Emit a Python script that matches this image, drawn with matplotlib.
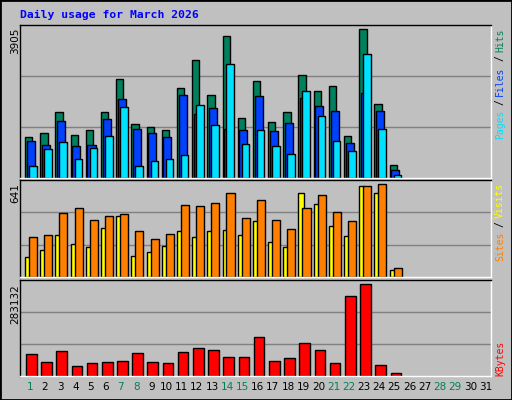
import matplotlib
matplotlib.use("Agg")
import matplotlib.pyplot as plt
import numpy as np

days = list(range(1, 32))
hits = [1068,1174,1730,1121,1253,1730,2605,1412,1333,1253,2366,3082,2181,3718,1571,2552,1465,1730,2711,2287,2419,1094,3905,1942,352]
files = [962,856,1492,829,856,1545,2075,1280,1174,1068,2181,1677,1836,1280,1253,2154,1227,1439,2101,1889,1757,909,2234,1757,220]
pages = [326,750,935,511,776,1094,1863,326,458,485,591,1916,1386,2976,882,1253,829,617,2287,1624,962,697,3241,1280,87]
visits = [141,183,287,231,204,336,419,148,169,211,315,273,315,322,287,384,238,204,579,502,349,280,627,579,51]
sites = [273,287,440,474,391,419,433,315,259,294,495,488,509,579,405,530,391,329,474,565,447,384,627,641,65]
kbytes = [66131,44432,75431,32033,41332,44432,47532,69231,44432,41332,72331,84730,78530,56831,56831,118829,47532,53732,100230,78530,41332,245929,283132,35133,8266]
weekend_days = [1,7,8,14,15,21,22,28,29]

BG = "#C0C0C0"
W, H = 512, 400
fig = plt.figure(figsize=(5.12, 4.0), dpi=100, facecolor=BG)
mono = "DejaVu Sans Mono"

def ax_at(x0, y0, x1, y1):
    ax = fig.add_axes([x0/W, 1-y1/H, (x1-x0)/W, (y1-y0)/H])
    ax.set_facecolor(BG)
    ax.set_xlim(0.18, 31.18)
    ax.set_xticks([]); ax.set_yticks([])
    for s in ax.spines.values():
        s.set_color("black"); s.set_linewidth(1)
    ax.spines["bottom"].set_color("white")
    ax.spines["right"].set_color("white")
    return ax

n = len(hits)
d = np.arange(1, n+1)
kw = dict(align="edge", edgecolor="black", linewidth=1)

ax1 = ax_at(20, 25, 491, 178)
top1 = 3905*152/148
ax1.set_ylim(0, top1)
for g in (top1/3, 2*top1/3):
    ax1.axhline(g, color="#808080", lw=1, zorder=0)
ax1.bar(d-0.49, hits, 0.48, color="#00805C", **kw)
ax1.bar(d-0.38, files, 0.53, color="#0040FF", **kw)
ax1.bar(d-0.23, pages, 0.50, color="#00E0FF", **kw)

ax2 = ax_at(20, 180, 491, 277)
top2 = 669
ax2.set_ylim(0, top2)
for g in (top2/3, 2*top2/3):
    ax2.axhline(g, color="#808080", lw=1, zorder=0)
ax2.bar(d-0.49, visits, 0.34, color="#FFFF00", **kw)
ax2.bar(d-0.23, sites, 0.53, color="#FF8000", **kw)

ax3 = ax_at(20, 280, 491, 376)
top3 = 294500
ax3.set_ylim(0, top3)
for g in (top3/3, 2*top3/3):
    ax3.axhline(g, color="#808080", lw=1, zorder=0)
ax3.bar(d-0.43, kbytes, 0.70, color="#FF0000", **kw)

for day in days:
    ax3.text(day-0.18, -0.06, str(day), transform=ax3.get_xaxis_transform(),
             ha="center", va="top", fontsize=7.5, family="DejaVu Sans",
             color="#00805C" if day in weekend_days else "black")

fig.text(20/W, 1-15/H, "Daily usage for March 2026", color="#0000FF",
         family=mono, fontweight="bold", fontsize=8.2, ha="left", va="center")

for lab, y in (("3905", 28), ("641", 183), ("283132", 284)):
    fig.text(15/W, 1-y/H, lab, rotation=90, ha="center", va="top",
             fontsize=7.5, family="DejaVu Sans")

cw = 5.45
def right_label(parts, ytop):
    # parts: (text, colour, number of chars incl. surrounding spaces)
    total = sum(k for _, _, k in parts)
    after = total
    for p, c, k in parts:
        after -= k
        pad = (k - len(p)) / 2
        fig.text(500/W, 1-(ytop + cw*(after + pad))/H, p, rotation=90,
                 ha="center", va="top", family=mono, fontsize=7, color=c)

right_label([("Pages", "#00E0FF", 5), ("/", "black", 3), ("Files", "#0040FF", 5),
             ("/", "black", 3), ("Hits", "#00805C", 4)], 28)
right_label([("Sites", "#FF8000", 5), ("/", "black", 3), ("Visits", "#FFFF00", 6)], 183)
right_label([("KBytes", "#FF0000", 6)], 341)

fig.add_artist(plt.Rectangle((0, 0), 1, 1, transform=fig.transFigure,
                             fill=False, edgecolor="black", lw=2))
fig.savefig("out.png", dpi=100, facecolor=BG)
